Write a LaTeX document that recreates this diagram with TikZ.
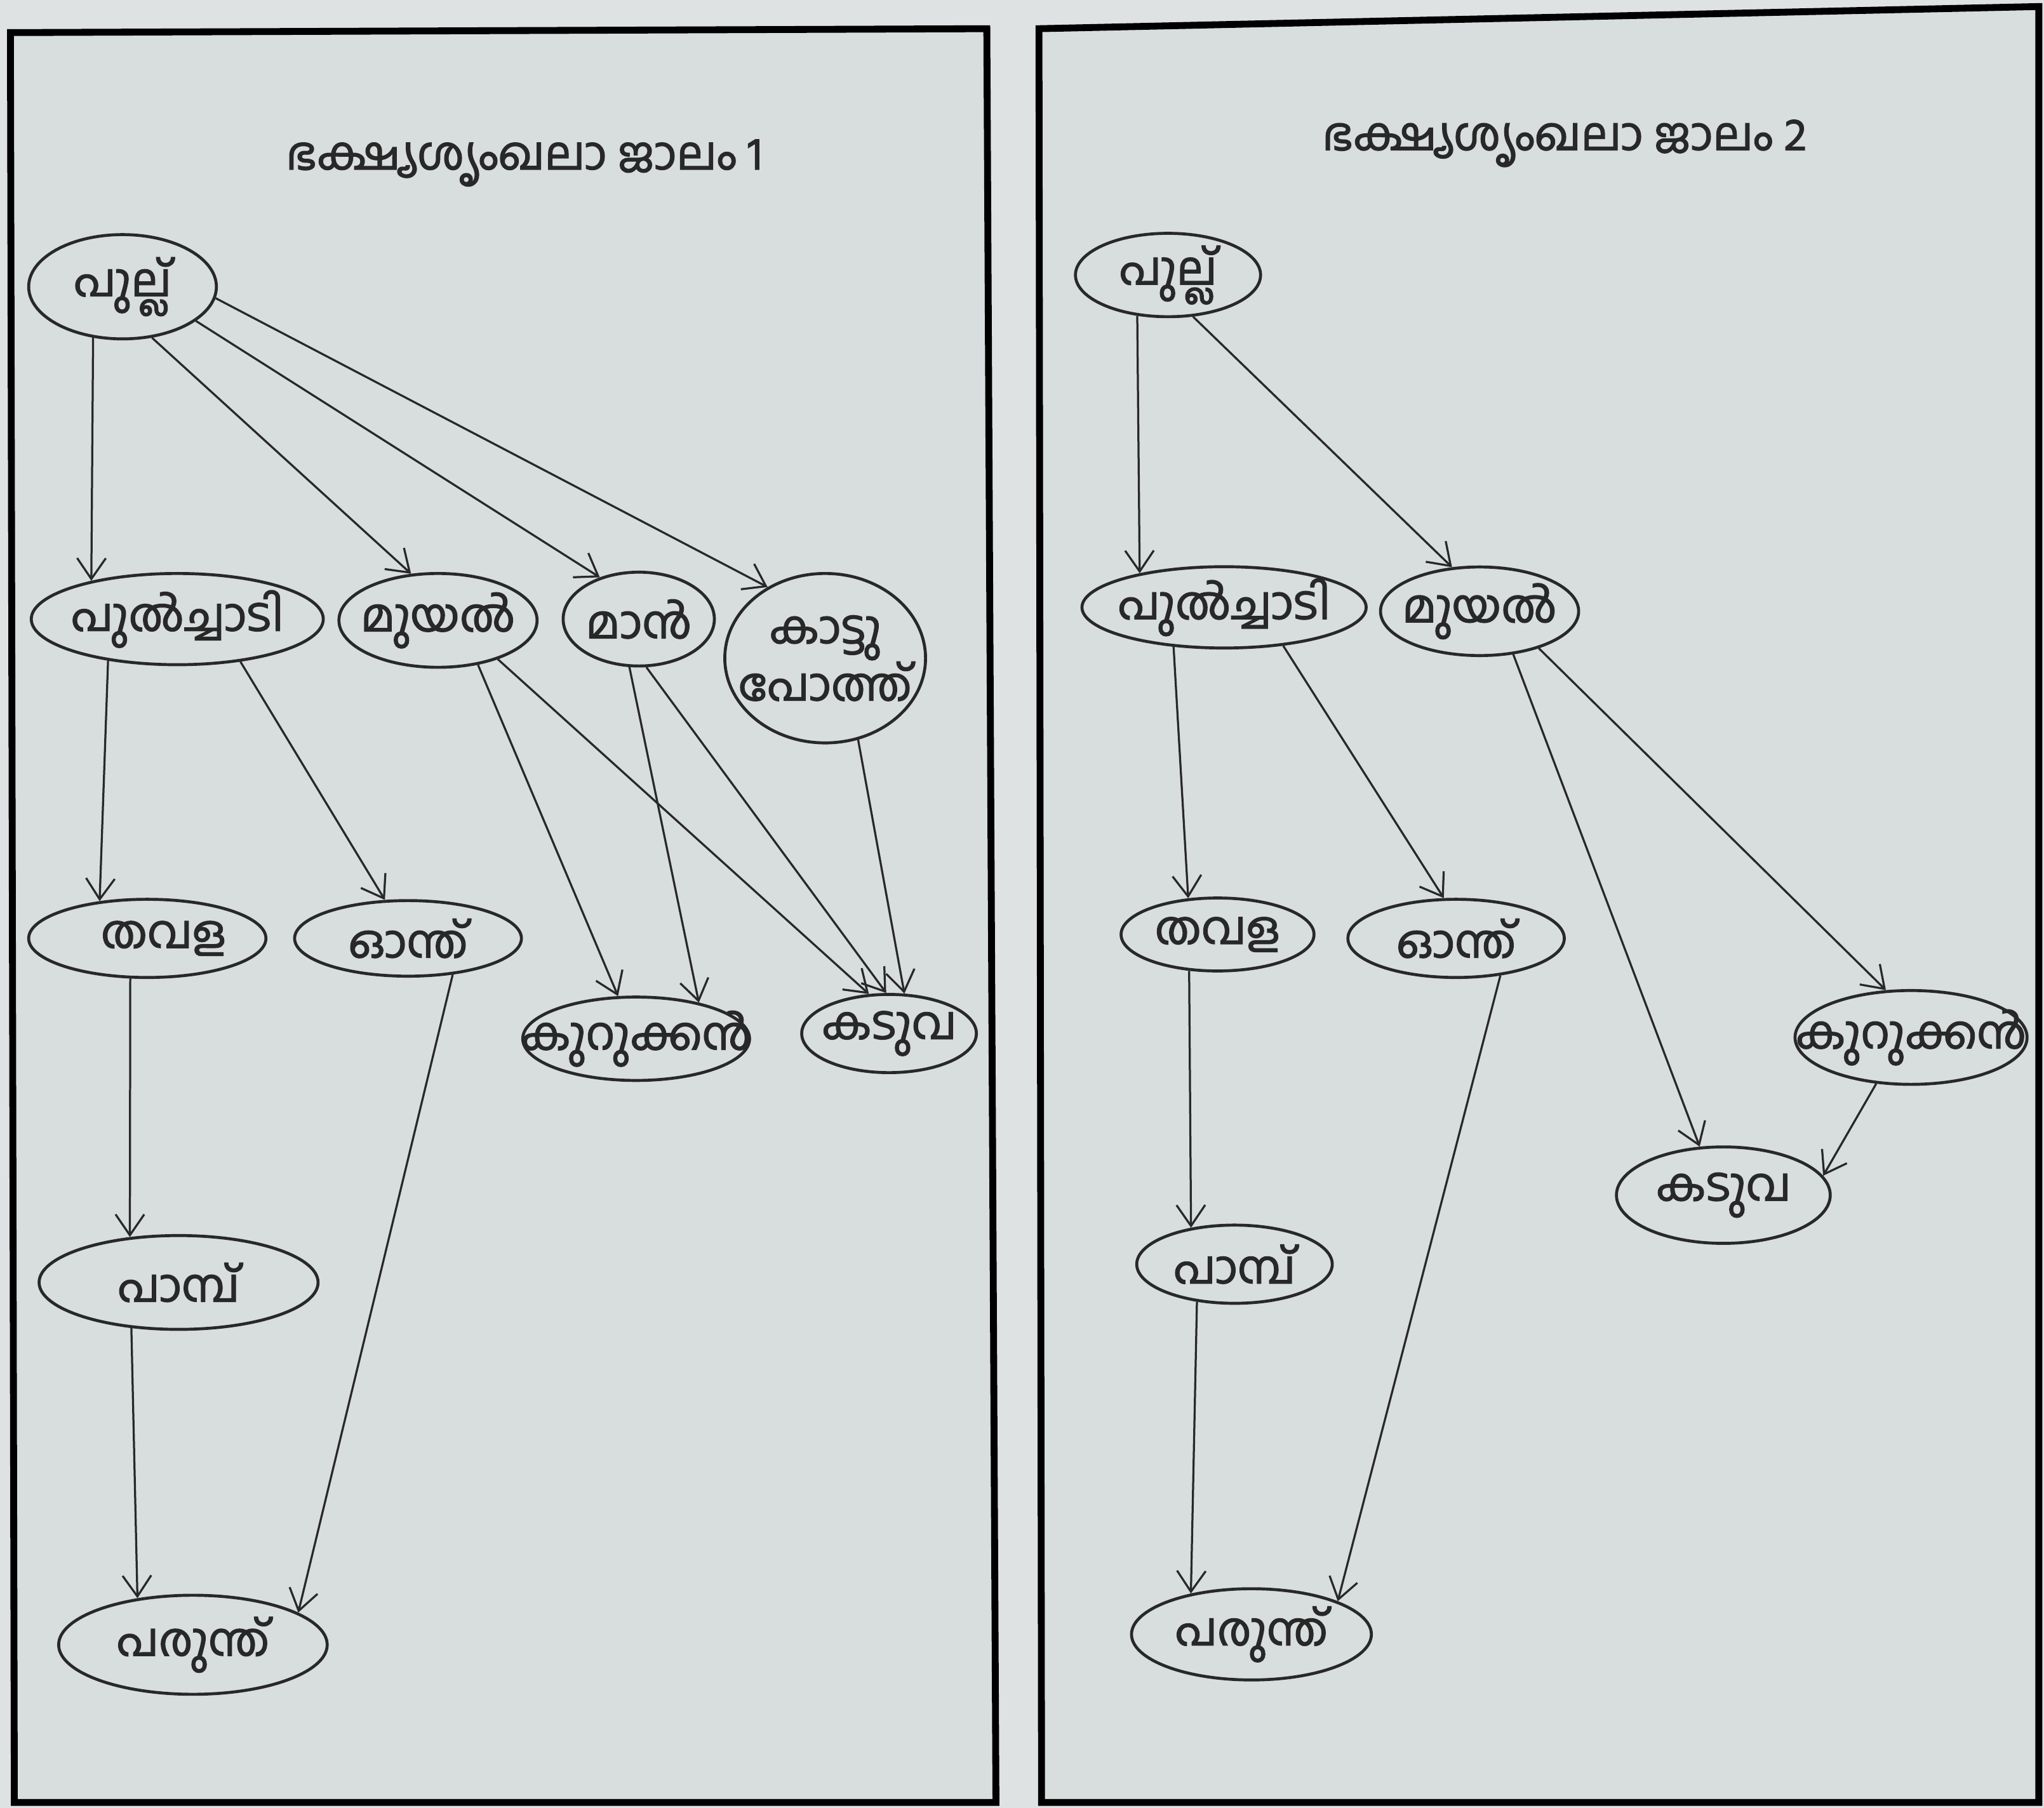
\documentclass[tikz,border=0pt]{standalone}
\usepackage{fontspec}
\newfontfamily\ml[Script=Malayalam, FakeBold=1.8]{Hind Kochi}
\usetikzlibrary{shapes.geometric,arrows.meta}
\definecolor{paper}{RGB}{222,226,227}
\definecolor{page}{RGB}{216,221,222}
\definecolor{ink}{RGB}{40,40,40}
\newcommand\nm[1]{\makebox[0pt]{#1}}
\begin{document}
\begin{tikzpicture}[
    sp/.style={ellipse, draw=ink, line width=0.65pt, inner sep=0pt, text=ink,
        font=\ml\fontsize{10}{12.5}\selectfont},
    eat/.style={draw=ink, line width=0.45pt, -{Straight Barb[length=1.6mm, width=2.2mm]}},
    ttl/.style={text=ink, font=\ml\fontsize{10}{12}\selectfont}
]
    \useasboundingbox[fill=paper] (0,0) rectangle (15.68,-13.87);

    % Web 1
    \draw[fill=page, line width=1.5pt] (0.08,-0.25) -- (7.57,-0.22) -- (7.64,-13.83) -- (0.11,-13.83) -- cycle;
    \node[ttl] (w1) at (4.02,-1.25) {ഭക്ഷ്യശൃംഖലാ ജാലം 1};

    \node[sp, minimum width=1.44cm, minimum height=0.80cm] (g1) at (0.94,-2.20) {\nm{പുല്ല്}};
    \node[sp, minimum width=2.24cm, minimum height=0.70cm] (gh1) at (1.36,-4.75) {\nm{പുൽച്ചാടി}};
    \node[sp, minimum width=1.52cm, minimum height=0.72cm] (r1) at (3.36,-4.76) {\nm{മുയൽ}};
    \node[sp, minimum width=1.16cm, minimum height=0.72cm] (d1) at (4.90,-4.75) {\nm{മാൻ}};
    \node[sp, minimum width=1.54cm, minimum height=1.30cm, align=center] (b1) at (6.33,-5.05) {\nm{കാട്ടു}\\\nm{പോത്ത്}};
    \node[sp, minimum width=1.82cm, minimum height=0.60cm] (f1) at (1.13,-7.20) {\nm{\hspace{0.25cm}തവള}};
    \node[sp, minimum width=1.74cm, minimum height=0.58cm] (c1) at (3.13,-7.20) {\nm{ഓന്ത്}};
    \node[sp, minimum width=1.74cm, minimum height=0.64cm] (fx1) at (4.88,-7.97) {\nm{കുറുക്കൻ}};
    \node[sp, minimum width=1.34cm, minimum height=0.60cm] (t1) at (6.82,-7.93) {\nm{കടുവ}};
    \node[sp, minimum width=2.14cm, minimum height=0.72cm] (s1) at (1.37,-9.84) {\nm{പാമ്പ്}};
    \node[sp, minimum width=2.06cm, minimum height=0.76cm] (e1) at (1.48,-12.62) {\nm{പരുന്ത്}};

    \draw[eat] (g1.-120) -- (gh1.156);
    \draw[eat] (g1.-60) -- (r1.120);
    \draw[eat] (g1.-25) -- (d1.133);
    \draw[eat] (g1.-7) -- (b1.129);
    \draw[eat] (gh1.-149) -- (f1.142);
    \draw[eat] (gh1.-34) -- (c1.121);
    \draw[eat] (r1.-48) -- (fx1.113);
    \draw[eat] (r1.-33) -- (t1.117);
    \draw[eat] (d1.-101) -- (fx1.30);
    \draw[eat] (d1.-81) -- (t1.94);
    \draw[eat] (b1.-68) -- (t1.69);
    \draw[eat] (f1.-113) -- (s1.137);
    \draw[eat] (c1.-39) -- (e1.17);
    \draw[eat] (s1.-136) -- (e1.140);

    % Web 2
    \draw[fill=page, line width=1.5pt] (7.97,-0.22) -- (15.64,-0.05) -- (15.64,-13.83) -- (7.99,-13.83) -- cycle;
    \node[ttl] (w2) at (12.00,-1.10) {ഭക്ഷ്യശൃംഖലാ ജാലം 2};

    \node[sp, minimum width=1.42cm, minimum height=0.64cm] (g2) at (8.96,-2.11) {\nm{പുല്ല്}};
    \node[sp, minimum width=2.18cm, minimum height=0.60cm] (gh2) at (9.39,-4.66) {\nm{പുൽച്ചാടി}};
    \node[sp, minimum width=1.52cm, minimum height=0.68cm] (r2) at (11.35,-4.69) {\nm{മുയൽ}};
    \node[sp, minimum width=1.48cm, minimum height=0.56cm] (f2) at (9.34,-7.17) {\nm{തവള}};
    \node[sp, minimum width=1.66cm, minimum height=0.60cm] (c2) at (11.17,-7.20) {\nm{ഓന്ത്}};
    \node[sp, minimum width=1.78cm, minimum height=0.72cm] (fx2) at (14.66,-7.96) {\nm{കുറുക്കൻ}};
    \node[sp, minimum width=1.64cm, minimum height=0.74cm] (t2) at (13.22,-9.17) {\nm{കടുവ}};
    \node[sp, minimum width=1.50cm, minimum height=0.60cm] (s2) at (9.47,-9.70) {\nm{പാമ്പ്}};
    \node[sp, minimum width=1.84cm, minimum height=0.70cm] (e2) at (9.60,-12.54) {\nm{പരുന്ത്}};

    \draw[eat] (g2.-127) -- (gh2.158);
    \draw[eat] (g2.-59) -- (r2.122);
    \draw[eat] (gh2.-142) -- (f2.129);
    \draw[eat] (gh2.-33) -- (c2.107);
    \draw[eat] (r2.-52) -- (t2.116);
    \draw[eat] (r2.-32) -- (fx2.118);
    \draw[eat] (fx2.-127) -- (t2.11);
    \draw[eat] (f2.-128) -- (s2.140);
    \draw[eat] (c2.-40) -- (e2.21);
    \draw[eat] (s2.-135) -- (e2.146);
\end{tikzpicture}
\end{document}
